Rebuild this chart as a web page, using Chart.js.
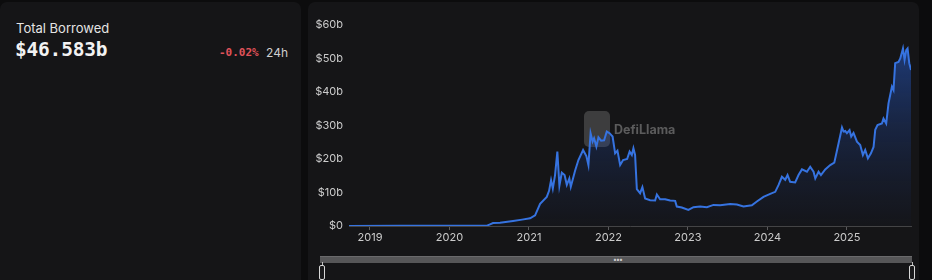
<!DOCTYPE html>
<html>
<head>
<meta charset="utf-8">
<script src="https://cdn.jsdelivr.net/npm/chart.js@4.4.1/dist/chart.umd.min.js"></script>
<style>
  html,body{margin:0;padding:0;background:#0c0c0d;width:932px;height:280px;overflow:hidden;font-family:Inter,"Noto Sans",sans-serif;}
  .panel{position:absolute;background:#151517;border-radius:7px;}
  #left{left:0;top:2px;width:301px;height:290px;}
  #right{left:308px;top:2px;width:611px;height:290px;}
  .t1{position:absolute;left:16px;top:20px;font-size:13px;color:#e4e4e4;}
  .t2{position:absolute;left:15px;top:38px;font-size:19.5px;font-weight:bold;color:#f2f2f2;font-family:"DejaVu Sans Mono",monospace;letter-spacing:-0.2px;}
  .t3{position:absolute;left:219px;top:46px;font-size:11px;color:#e0525a;font-family:"DejaVu Sans Mono",monospace;font-weight:bold;}
  .t4{position:absolute;left:266px;top:45px;font-size:12px;color:#cfcfcf;}
  #cwrap{position:absolute;left:308px;top:2px;width:612px;height:250px;}
  .bar{position:absolute;left:320px;top:256px;width:592px;height:6px;background:#565658;border-top:1px solid #6a6a6c;}
  .grip{position:absolute;left:613px;top:257px;font-size:7px;color:#cfcfcf;line-height:5px;letter-spacing:-1px;}
  .hline{position:absolute;width:1px;height:3px;background:#bdbdbd;top:262px;}
  .handle{position:absolute;top:265px;width:4px;height:13px;border:1px solid #d8d8d8;border-radius:2px;background:#1a1a1c;}
</style>
</head>
<body>
<div class="panel" id="left">
</div>
<div class="t1">Total Borrowed</div>
<div class="t2">$46.583b</div>
<div class="t3">-0.02%</div>
<div class="t4">24h</div>
<div class="panel" id="right"></div>
<div id="cwrap"><canvas id="c" width="612" height="250"></canvas></div>
<div class="bar"></div>
<div class="grip">•••</div>
<div class="hline" style="left:322px"></div>
<div class="hline" style="left:912px"></div>
<div class="handle" style="left:319px"></div>
<div class="handle" style="left:909px"></div>
<script>
// decimal year of each observation
const years = [
 2018.736, 2019.378, 2020.473, 2020.510, 2020.548, 2020.636, 2020.800, 2020.913,
 2021.014, 2021.077, 2021.140, 2021.224, 2021.253, 2021.278, 2021.300, 2021.328,
 2021.357, 2021.383, 2021.413, 2021.448, 2021.476, 2021.508, 2021.526, 2021.580,
 2021.622, 2021.681, 2021.722, 2021.748, 2021.775, 2021.801, 2021.819, 2021.848,
 2021.874, 2021.907, 2021.945, 2021.979, 2022.014, 2022.052, 2022.084, 2022.113,
 2022.147, 2022.184, 2022.235, 2022.266, 2022.294, 2022.314, 2022.335, 2022.357,
 2022.398, 2022.427, 2022.461, 2022.524, 2022.587, 2022.609, 2022.650, 2022.713,
 2022.776, 2022.839, 2022.860, 2022.923, 2023.006, 2023.069, 2023.153, 2023.238,
 2023.321, 2023.405, 2023.531, 2023.615, 2023.699, 2023.804, 2023.867, 2023.950,
 2024.035, 2024.098, 2024.139, 2024.182, 2024.224, 2024.253, 2024.286, 2024.349,
 2024.391, 2024.434, 2024.497, 2024.538, 2024.580, 2024.602, 2024.643, 2024.673,
 2024.727, 2024.790, 2024.841, 2024.895, 2024.938, 2024.958, 2024.979, 2025.000,
 2025.033, 2025.054, 2025.083, 2025.126, 2025.167, 2025.201, 2025.230, 2025.264,
 2025.302, 2025.335, 2025.356, 2025.385, 2025.440, 2025.460, 2025.494, 2025.523,
 2025.566, 2025.586, 2025.607, 2025.649, 2025.671, 2025.705, 2025.725, 2025.746,
 2025.763, 2025.784, 2025.806
];
// total borrowed, billions USD
const borrowed = [
 0.02, 0.05, 0.1, 0.5, 0.9, 1.0, 1.5, 1.9,
 2.3, 3.2, 6.6, 8.7, 10.5, 13.7, 11.2, 15.2,
 22.2, 12.0, 15.9, 15.2, 12.3, 14.2, 11.7, 16.5,
 19.7, 22.7, 20.9, 18.2, 27.7, 25.2, 26.2, 23.7,
 26.5, 25.5, 25.6, 28.2, 27.7, 26.7, 21.7, 22.5,
 18.2, 19.7, 20.0, 22.2, 21.2, 23.2, 21.2, 11.0,
 9.8, 11.6, 8.2, 7.7, 7.6, 9.4, 8.0, 8.0,
 7.6, 7.5, 5.8, 5.5, 4.8, 5.6, 5.8, 5.6,
 6.3, 6.2, 6.6, 6.4, 5.8, 6.2, 7.3, 8.7,
 9.6, 10.2, 12.2, 14.7, 13.8, 15.2, 13.2, 13.0,
 15.2, 16.9, 16.2, 17.7, 16.2, 14.2, 16.2, 15.2,
 16.9, 18.2, 18.9, 24.7, 29.4, 28.2, 28.4, 27.7,
 28.6, 26.7, 27.8, 25.2, 24.2, 21.2, 22.7, 20.2,
 21.7, 23.6, 28.7, 30.1, 30.6, 32.1, 30.6, 36.6,
 41.6, 40.6, 48.6, 49.0, 50.0, 53.0, 49.6, 52.5,
 53.0, 48.6, 46.583
];
const tickYears = [2019, 2020, 2021, 2022, 2023, 2024, 2025];
const yTicks = [0, 10, 20, 30, 40, 50, 60];

const points = years.map((x, i) => ({x: x, y: borrowed[i]}));

const watermark = {
  id: 'watermark',
  beforeDatasetsDraw(chart) {
    const ctx = chart.ctx;
    ctx.save();
    ctx.fillStyle = 'rgba(110,110,110,0.45)';
    const lx = 584 - 308, ly = 111 - 2;
    ctx.beginPath();
    ctx.roundRect(lx, ly, 26, 36, 5);
    ctx.fill();
    ctx.fillStyle = 'rgba(150,150,150,0.55)';
    ctx.font = 'bold 12.5px Inter, "Noto Sans", sans-serif';
    ctx.textBaseline = 'middle';
    ctx.fillText('DefiLlama', 614 - 308, 130 - 2);
    ctx.restore();
  }
};

new Chart(document.getElementById('c'), {
  type: 'line',
  data: {
    datasets: [{
      data: points,
      borderColor: '#3673e0',
      borderWidth: 2,
      pointRadius: 0,
      tension: 0,
      fill: 'origin',
      backgroundColor: (ctx) => {
        const ca = ctx.chart.chartArea;
        if (!ca) return 'rgba(40,90,200,0.3)';
        const g = ctx.chart.ctx.createLinearGradient(0, ca.top, 0, ca.bottom);
        g.addColorStop(0, 'rgba(40,95,210,0.6)');
        g.addColorStop(0.5, 'rgba(35,80,180,0.28)');
        g.addColorStop(1, 'rgba(30,60,140,0.03)');
        return g;
      }
    }]
  },
  options: {
    responsive: false,
    animation: false,
    layout: {padding: {top: 23, right: 9, left: 0, bottom: 0}},
    plugins: {legend: {display: false}, tooltip: {enabled: false}},
    scales: {
      x: {
        type: 'linear',
        min: years[0],
        max: years[years.length - 1],
        afterBuildTicks: (s) => { s.ticks = tickYears.map(v => ({value: v})); },
        afterFit: (s) => { s.height = 26; },
        ticks: {
          color: '#cccccc', font: {family: 'Inter', size: 11}, padding: 1,
          maxRotation: 0, autoSkip: false,
          callback: (v) => String(v)
        },
        grid: {display: true, drawOnChartArea: false, drawTicks: true, tickLength: 4, color: '#5a5a5c'},
        border: {display: true, color: '#444446'}
      },
      y: {
        min: 0, max: 60,
        afterBuildTicks: (s) => { s.ticks = yTicks.map(v => ({value: v})); },
        afterFit: (s) => { s.width = 41; },
        ticks: {
          color: '#cccccc', font: {family: 'Inter', size: 11}, padding: 6,
          callback: (v) => v === 0 ? '$0' : '$' + v + 'b'
        },
        grid: {display: false, drawTicks: false},
        border: {display: false}
      }
    }
  },
  plugins: [watermark]
});
</script>
</body>
</html>
